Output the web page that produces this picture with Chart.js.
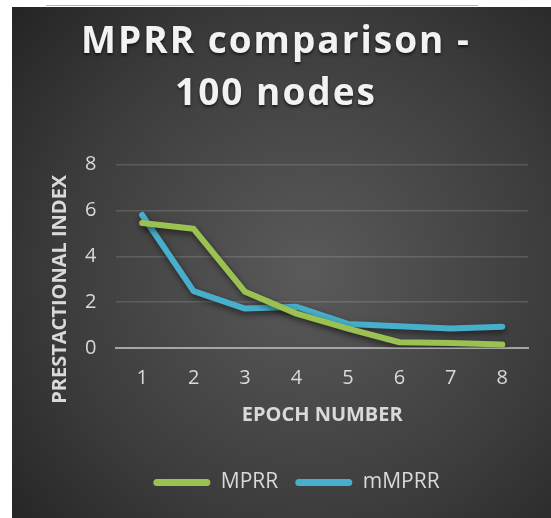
<!DOCTYPE html>
<html>
<head>
<meta charset="utf-8">
<script src="https://cdn.jsdelivr.net/npm/chart.js@4"></script>
<style>
  html, body { margin: 0; padding: 0; background: #fff; }
  #topline { position: absolute; left: 46px; top: 5px; width: 432px; height: 1px; background: #b5b5b5; }
  #wrap { position: absolute; left: 12px; top: 7px; width: 539px; height: 511px; }
</style>
</head>
<body>
<div id="topline"></div>
<div id="wrap"><canvas id="mprrChart" width="539" height="511"></canvas></div>
<script>
// chart data
const epochs = ['1', '2', '3', '4', '5', '6', '7', '8'];
const mprr = [5.45, 5.2, 2.45, 1.5, 0.85, 0.25, 0.22, 0.15];
const mmprr = [5.8, 2.48, 1.72, 1.8, 1.05, 0.95, 0.85, 0.93];
const yTicks = [0, 2, 4, 6, 8];
const titleLines = ['MPRR comparison -', '100 nodes'];

const txt = '#d9d9d9';
const titleSize = 37;
const titleLH = 1.4;

// dark radial background
const bgPlugin = {
    id: 'bg',
    beforeDraw: function (chart) {
        const c = chart.ctx;
        const w = chart.width, h = chart.height;
        const g = c.createRadialGradient(w * 0.55, h * 0.52, 10, w * 0.55, h * 0.52, w * 0.75);
        g.addColorStop(0, '#595959');
        g.addColorStop(0.6, '#3c3c3c');
        g.addColorStop(1, '#232323');
        c.save();
        c.fillStyle = g;
        c.fillRect(0, 0, w, h);
        c.restore();
    }
};

// soft shadow under the lines
const shadowPlugin = {
    id: 'lineShadow',
    beforeDatasetsDraw: function (chart) {
        const c = chart.ctx;
        c.save();
        c.shadowColor = 'rgba(0,0,0,0.55)';
        c.shadowBlur = 6;
        c.shadowOffsetX = 1;
        c.shadowOffsetY = 3;
    },
    afterDatasetsDraw: function (chart) {
        chart.ctx.restore();
    }
};

// title (spaced letters) and both axis titles drawn by hand
const textPlugin = {
    id: 'extraText',
    afterDraw: function (chart) {
        const c = chart.ctx;
        const a = chart.chartArea;
        const tb = chart.titleBlock;
        c.save();
        c.font = 'bold ' + titleSize + 'px "Open Sans"';
        c.fillStyle = '#f2f2f2';
        c.textAlign = 'center';
        c.textBaseline = 'middle';
        c.letterSpacing = '2px';
        c.shadowColor = 'rgba(0,0,0,0.6)';
        c.shadowBlur = 3;
        c.shadowOffsetY = 2;
        const lh = titleSize * titleLH;
        titleLines.forEach(function (t, i) {
            c.fillText(t, 264, tb.top + 10 + lh * (i + 0.5));
        });
        c.restore();

        c.save();
        c.font = 'bold 20px "Open Sans"';
        c.fillStyle = txt;
        c.textAlign = 'center';
        c.textBaseline = 'middle';
        c.fillText('EPOCH NUMBER', (a.left + a.right) / 2, a.bottom + 67);
        c.translate(a.left - 56, (a.top + a.bottom) / 2 + 33);
        c.rotate(-Math.PI / 2);
        c.fillText('PRESTACTIONAL INDEX', 0, 0);
        c.restore();
    }
};

const ctx = document.getElementById('mprrChart').getContext('2d');
const mprrChart = new Chart(ctx, {
    type: 'line',
    data: {
        labels: epochs,
        datasets: [{
            label: 'MPRR',
            data: mprr,
            borderColor: '#9bc152',
            backgroundColor: '#9bc152',
            borderWidth: 6,
            pointRadius: 0,
            borderCapStyle: 'round',
            borderJoinStyle: 'round',
            tension: 0
        }, {
            label: 'mMPRR',
            data: mmprr,
            borderColor: '#47afcb',
            backgroundColor: '#47afcb',
            borderWidth: 6,
            pointRadius: 0,
            borderCapStyle: 'round',
            borderJoinStyle: 'round',
            tension: 0
        }]
    },
    options: {
        responsive: false,
        animation: false,
        layout: {
            padding: { left: 53, right: 23, top: 0, bottom: 15 }
        },
        plugins: {
            title: {
                display: true,
                text: titleLines,
                color: 'rgba(0,0,0,0)',
                font: { family: '"Open Sans"', size: titleSize, weight: 'bold', lineHeight: titleLH },
                padding: { top: 10, bottom: 44 }
            },
            legend: {
                position: 'bottom',
                labels: {
                    color: txt,
                    font: { family: '"Open Sans"', size: 21 },
                    boxWidth: 57,
                    boxHeight: 7,
                    padding: 17,
                    useBorderRadius: true,
                    borderRadius: 3.5,
                    generateLabels: function (chart) {
                        return chart.data.datasets.map(function (ds, i) {
                            return {
                                text: ds.label,
                                fillStyle: ds.borderColor,
                                strokeStyle: ds.borderColor,
                                lineWidth: 0,
                                fontColor: txt,
                                borderRadius: 3.5,
                                datasetIndex: i
                            };
                        });
                    }
                }
            },
            tooltip: { enabled: false }
        },
        scales: {
            x: {
                offset: true,
                grid: { display: false, drawTicks: false },
                border: { display: true, color: '#a6a6a6', width: 2 },
                ticks: {
                    color: txt,
                    font: { family: '"Open Sans"', size: 20 },
                    padding: 18
                },
                title: {
                    // space only, the visible title is drawn by textPlugin
                    display: true,
                    text: 'EPOCH NUMBER',
                    color: 'rgba(0,0,0,0)',
                    font: { family: '"Open Sans"', size: 20, weight: 'bold' },
                    padding: { top: 14, bottom: 9 }
                }
            },
            y: {
                min: 0,
                max: 8,
                afterBuildTicks: function (axis) {
                    axis.ticks = yTicks.map(function (v) { return { value: v }; });
                },
                grid: {
                    drawTicks: false,
                    color: function (c) {
                        return c.tick && c.tick.value === 0 ? 'rgba(0,0,0,0)' : 'rgba(255,255,255,0.14)';
                    },
                    lineWidth: 1.5
                },
                border: { display: false },
                ticks: {
                    color: txt,
                    font: { family: '"Open Sans"', size: 20 },
                    padding: 20
                }
            }
        }
    },
    plugins: [bgPlugin, shadowPlugin, textPlugin]
});
</script>
</body>
</html>
